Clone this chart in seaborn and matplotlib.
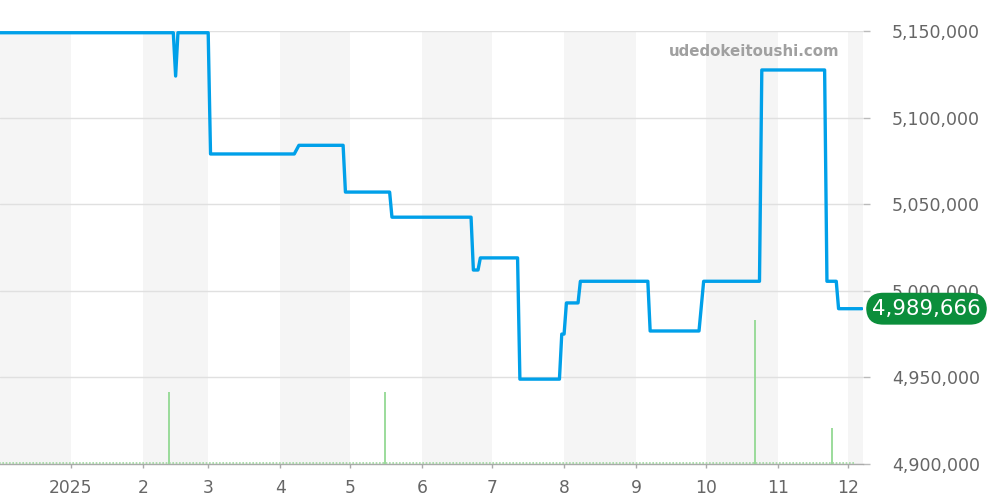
import matplotlib
matplotlib.use("Agg")
import matplotlib.pyplot as plt
import matplotlib.dates as mdates
import seaborn as sns
import pandas as pd
import numpy as np

# ---- data ----
price_dates = ["2024-12-01", "2025-02-14", "2025-02-15", "2025-02-16", "2025-03-01", "2025-03-02",
               "2025-04-07", "2025-04-09", "2025-04-28", "2025-04-29", "2025-05-18", "2025-05-19",
               "2025-06-22", "2025-06-23", "2025-06-25", "2025-06-26", "2025-07-12", "2025-07-13",
               "2025-07-30", "2025-07-31", "2025-08-01", "2025-08-02", "2025-08-07", "2025-08-08",
               "2025-09-06", "2025-09-07", "2025-09-28", "2025-09-30", "2025-10-24", "2025-10-25",
               "2025-11-21", "2025-11-22", "2025-11-26", "2025-11-27", "2025-12-07"]
price_values = [5149000, 5149000, 5124000, 5149000, 5149000, 5079000,
                5079000, 5084000, 5084000, 5057000, 5057000, 5042500,
                5042500, 5012000, 5012000, 5019000, 5019000, 4949000,
                4949000, 4975000, 4975000, 4993000, 4993000, 5005500,
                5005500, 4976800, 4976800, 5005500, 5005500, 5127500,
                5127500, 5005500, 5005500, 4989666, 4989666]
volume_dates = ["2025-02-12", "2025-05-16", "2025-10-22", "2025-11-24"]
volume_values = [2, 2, 4, 1]
month_starts = ["2025-01-01", "2025-02-01", "2025-03-01", "2025-04-01", "2025-05-01", "2025-06-01",
                "2025-07-01", "2025-08-01", "2025-09-01", "2025-10-01", "2025-11-01", "2025-12-01"]
month_labels = ["2025", "2", "3", "4", "5", "6", "7", "8", "9", "10", "11", "12"]
shaded_months = [("2024-12-01", "2025-01-01"), ("2025-02-01", "2025-03-01"), ("2025-04-01", "2025-05-01"),
                 ("2025-06-01", "2025-07-01"), ("2025-08-01", "2025-09-01"), ("2025-10-01", "2025-11-01"),
                 ("2025-12-01", "2026-01-01")]
y_ticks = [4900000, 4950000, 5000000, 5050000, 5100000, 5150000]
last_label = "4,989,666"
watermark = "udedokeitoushi.com"

sns.set_theme(style="white")
plt.rcParams["font.family"] = ["DejaVu Sans"]

df = pd.DataFrame({"date": pd.to_datetime(price_dates), "price": price_values})
vdf = pd.DataFrame({"date": pd.to_datetime(volume_dates), "vol": volume_values})

fig = plt.figure(figsize=(10, 5), dpi=100)
ax = fig.add_axes([0, 0.072, 0.863, 0.866])

x_left = pd.Timestamp("2024-12-01 12:00")
x_right = pd.Timestamp("2025-12-07 12:00")

for a, b in shaded_months:
    ax.axvspan(pd.Timestamp(a), pd.Timestamp(b), color="#f5f5f5", lw=0, zorder=0)

ax.grid(axis="y", color="#e0e0e0", lw=1, zorder=1)
ax.grid(axis="x", visible=False)

sns.lineplot(data=df, x="date", y="price", ax=ax, color="#00a0e9", lw=2.4, zorder=5,
             solid_joinstyle="round", solid_capstyle="round")

ax2 = ax.twinx()
ax2.vlines(vdf["date"], 0, vdf["vol"], color="#93d993", lw=1.3, zorder=3)
ax2.hlines(0.04, pd.Timestamp("2024-12-01"), pd.Timestamp("2025-12-04"), color="#9fd89f",
           lw=1.2, linestyles=(0, (1, 1)), zorder=6, clip_on=False)
ax2.set_ylim(0, 12)
ax2.set_yticks([])
for s in ax2.spines.values():
    s.set_visible(False)

ax.set_xlim(x_left, x_right)
ax.set_ylim(4900000, 5150000)
ax.yaxis.tick_right()
ax.yaxis.set_label_position("right")
ax.set_yticks(y_ticks)
ax.set_yticklabels([f"{v:,}" for v in y_ticks])
ax.set_xticks([mdates.date2num(pd.Timestamp(d)) for d in month_starts])
ax.set_xticklabels(month_labels)
ax.set_xlabel("")
ax.set_ylabel("")

ax.tick_params(axis="y", which="both", right=True, left=False, length=5, width=1,
               color="#bbbbbb", labelcolor="#666666", labelsize=12.5, pad=16)
ax.tick_params(axis="x", bottom=True, length=3, width=1, color="#aaaaaa",
               labelcolor="#666666", labelsize=12.3, pad=8)
for name, s in ax.spines.items():
    s.set_visible(name == "bottom")
ax.spines["bottom"].set_color("#aaaaaa")
ax.spines["bottom"].set_linewidth(1)

fig.text(0.84, 0.896, watermark, ha="right", va="center", fontsize=10.8,
         fontweight="bold", color="#a0a0a0")

ax.text(0.9265, price_values[-1], last_label,
        transform=matplotlib.transforms.blended_transform_factory(fig.transFigure, ax.transData),
        ha="center", va="center", fontsize=15.3, color="white", zorder=10, clip_on=False,
        bbox=dict(boxstyle="round,pad=0.28,rounding_size=0.8", fc="#0b8e3b", ec="none"))

fig.savefig("out.png", dpi=100)
